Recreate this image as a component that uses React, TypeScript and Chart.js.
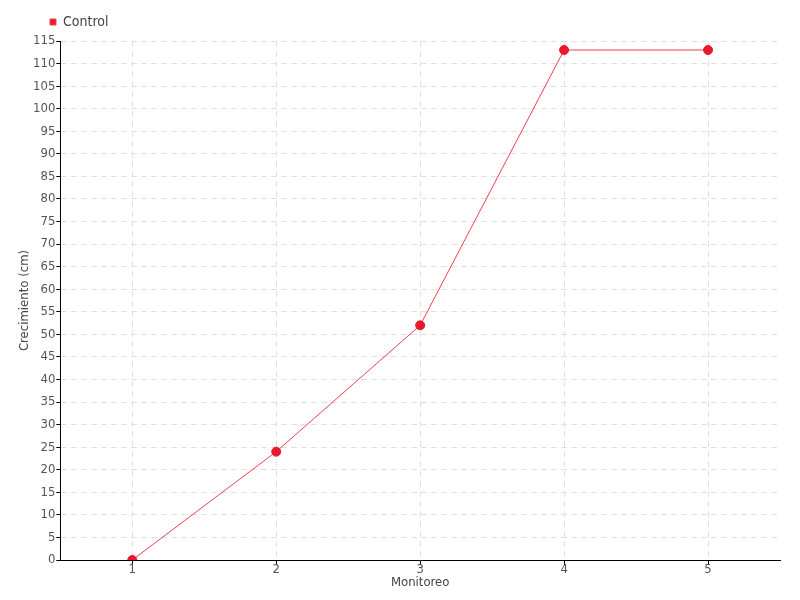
import React, { useEffect, useRef } from "react";
import { Chart, registerables } from "chart.js";

Chart.register(...registerables);

const categories = ["1", "2", "3", "4", "5"];
const controlValues = [0, 24, 52, 113, 113];
const seriesName = "Control";
const xTitle = "Monitoreo";
const yTitle = "Crecimiento (cm)";

const FONT = "'DejaVu Sans Condensed', 'Liberation Sans Narrow', sans-serif";

const legendShift = {
  id: "legendShift",
  afterLayout(chart: any) {
    if (chart.legend) {
      chart.legend.left += 18;
      chart.legend.top -= 2;
    }
  },
};

export default function App() {
  const ref = useRef<HTMLCanvasElement | null>(null);
  useEffect(() => {
    document.body.style.margin = "0";
    const ctx = ref.current!;
    const chart = new Chart(ctx, {
      type: "line",
      data: {
        labels: categories,
        datasets: [
          {
            label: seriesName,
            data: controlValues,
            borderColor: "#f0404f",
            backgroundColor: "#e8192c",
            pointBackgroundColor: "#e8192c",
            pointBorderColor: "#e8192c",
            borderWidth: 1,
            pointRadius: 4.5,
            tension: 0,
          },
        ],
      },
      plugins: [legendShift],
      options: {
        animation: false,
        responsive: false,
        maintainAspectRatio: false,
        layout: { padding: { left: 18, right: 20, top: 3, bottom: 11 } },
        plugins: {
          legend: {
            align: "start",
            labels: {
              boxWidth: 6,
              boxHeight: 6,
              color: "#444",
              font: { family: FONT, size: 14 },
              padding: 14,
            },
          },
          tooltip: { enabled: false },
        },
        scales: {
          x: {
            offset: true,
            grid: {
              offset: false,
              color: "#e0e0e0",
              tickColor: "#000",
              tickBorderDash: [],
              tickLength: 5,
            } as any,
            border: { color: "#000", width: 1, dash: [6, 4] },
            ticks: {
              color: "#555",
              font: { family: FONT, size: 13, lineHeight: 1 },
              padding: -2,
            },
            title: {
              display: true,
              text: xTitle,
              color: "#444",
              font: { family: FONT, size: 13, lineHeight: 1 },
              padding: { top: 2, bottom: 0 },
            },
          },
          y: {
            min: 0,
            max: 115,
            ticks: {
              stepSize: 5,
              color: "#555",
              font: { family: FONT, size: 13, lineHeight: 1 },
              padding: 1,
            },
            grid: {
              color: "#e0e0e0",
              tickColor: "#000",
              tickBorderDash: [],
              tickLength: 4,
            } as any,
            border: { color: "#000", width: 1, dash: [6, 4] },
            title: {
              display: true,
              text: yTitle,
              color: "#444",
              font: { family: FONT, size: 13, lineHeight: 1 },
              padding: { top: 0, bottom: 1 },
            },
          },
        },
      },
    } as any);
    return () => chart.destroy();
  }, []);
  return (
    <div style={{ position: "absolute", left: 0, top: 0, width: 800, height: 600 }}>
      <canvas ref={ref} width={800} height={600} style={{ width: 800, height: 600 }} />
    </div>
  );
}
